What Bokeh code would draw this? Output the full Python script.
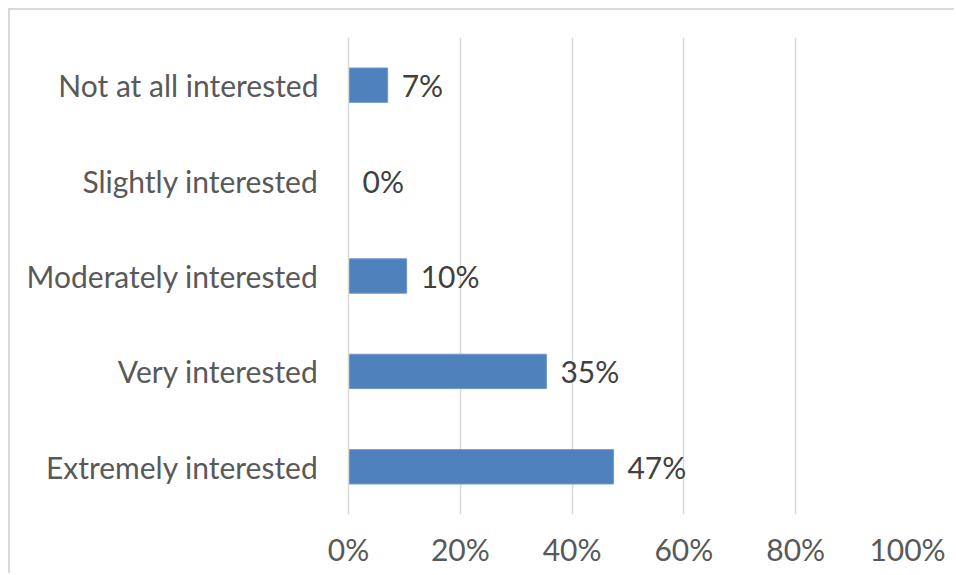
from bokeh.plotting import figure
from bokeh.models import ColumnDataSource, FactorRange, Range1d, LabelSet, NumeralTickFormatter, FixedTicker
from bokeh.core.properties import value
from bokeh.embed import file_html
from bokeh.resources import INLINE

categories = ["Extremely interested", "Very interested", "Moderately interested",
              "Slightly interested", "Not at all interested"]
values = [0.474, 0.354, 0.104, 0.0, 0.07]
labels = [f"{round(v*100):.0f}%" for v in values]
x_ticks = [0, 0.2, 0.4, 0.6, 0.8, 1.0]

FONT = "Lato"
FS = "30px"
GRID = "#d9d9d9"

src = ColumnDataSource(dict(cat=categories, val=values, lab=labels))

p = figure(width=946, height=565, y_range=FactorRange(*categories), x_range=Range1d(0, 1),
           output_backend="svg", toolbar_location=None,
           min_border_left=338, min_border_right=49, min_border_top=27, min_border_bottom=61)
p.styles = {"border-top": f"2px solid {GRID}", "border-left": f"2px solid {GRID}",
            "margin-left": "8px", "margin-top": "8px"}
p.outline_line_color = None
p.background_fill_color = "white"
p.border_fill_color = "white"

p.hbar(y="cat", right="val", left=0, height=0.36, source=src,
       fill_color="#4f81bd", line_color="#6f97c8", line_width=1)

p.add_layout(LabelSet(x="val", y="cat", text="lab", source=src, x_offset=14,
                      text_baseline="middle", text_font=value(FONT), text_font_size=value(FS),
                      text_color="#404040"))

p.xaxis.ticker = FixedTicker(ticks=x_ticks)
p.xaxis.formatter = NumeralTickFormatter(format="0%")
p.xaxis.axis_line_color = None
p.xaxis.major_tick_line_color = None
p.xaxis.minor_tick_line_color = None
p.xaxis.major_label_standoff = 10
p.xaxis.major_label_text_font = FONT
p.xaxis.major_label_text_font_size = FS
p.xaxis.major_label_text_color = "#595959"

p.yaxis.axis_line_color = GRID
p.yaxis.axis_line_width = 1.5
p.yaxis.major_tick_line_color = None
p.yaxis.minor_tick_line_color = None
p.yaxis.major_label_standoff = 24
p.yaxis.major_label_text_font = FONT
p.yaxis.major_label_text_font_size = FS
p.yaxis.major_label_text_color = "#595959"

p.xgrid.grid_line_color = GRID
p.xgrid.grid_line_width = 1.5
p.ygrid.grid_line_color = None

open("out.html", "w").write(file_html(p, INLINE))
